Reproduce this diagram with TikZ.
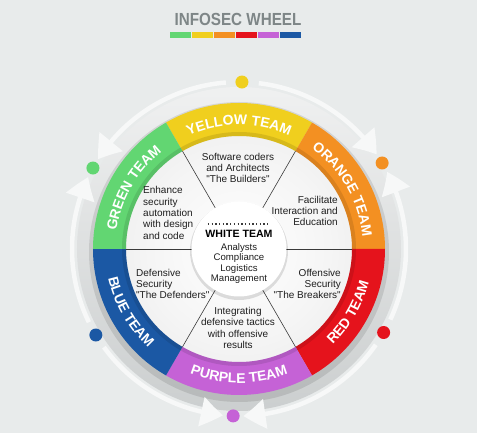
\documentclass[tikz,border=0pt]{standalone}
\usepackage{fontspec}
\usepackage{graphicx}
\setmainfont{Liberation Sans}
\usetikzlibrary{decorations.text,arrows.meta,bending}
\definecolor{cgreen}{HTML}{62D672}
\definecolor{cyellow}{HTML}{F0CF1E}
\definecolor{corange}{HTML}{F39022}
\definecolor{cred}{HTML}{E5131C}
\definecolor{cpurple}{HTML}{C562D6}
\definecolor{cblue}{HTML}{1B58A4}
\definecolor{bgc}{HTML}{E8EBEB}
\definecolor{titlegray}{HTML}{7E8687}
\definecolor{arcwhite}{HTML}{F7F8F8}
\definecolor{txt}{HTML}{1E1E1E}
\definecolor{raycol}{HTML}{3A3A3A}
\pgfdeclareradialshading{diskshade}{\pgfpoint{0bp}{0bp}}{color(0bp)=(white); color(20bp)=(white!96!black); color(38bp)=(white!91!black); color(50bp)=(white!80!black)}
\newcommand{\bandfont}{\fontsize{14}{14}\selectfont\bfseries\color{white}}
\begin{document}
\begin{tikzpicture}[x=1pt,y=1pt,
  secttext/.style={font=\fontsize{10}{11.4}\selectfont, text=txt, inner sep=0pt},
  flow/.style={draw=arcwhite, line width=4.5pt, -{Triangle[length=22pt,width=29pt,bend]}},
  teamdot/.style={circle, inner sep=0pt, minimum size=13pt},
  ray/.style={draw=raycol, line width=0.6pt},
  bandlabel/.style={decorate, decoration={text along path, text align=center, text={#1}}}
]
\useasboundingbox (-239,-184) rectangle (238,249);
\fill[bgc] (-239,-184) rectangle (238,249);

% gray ring behind the wheel
\shade[top color=white!88!titlegray, bottom color=white!60!titlegray] (0,0) circle (162pt);
\fill[black, opacity=0.10] (0,-3) circle (150pt);

% inner disk
\shade[shading=diskshade] (0,0) circle (114pt);

% coloured bands
\foreach \a/\c in {60/cyellow, 0/corange, -60/cred, -120/cpurple, 180/cblue, 120/cgreen}{
  \fill[\c] (\a:113pt) arc[start angle=\a, end angle=\a+60, radius=113pt]
    -- ({\a+60}:146pt) arc[start angle=\a+60, end angle=\a, radius=146pt] -- cycle;
}
% inner edge shadow of bands
\fill[black, opacity=0.10, even odd rule] (0,0) circle (117pt) (0,0) circle (113pt);

% band labels
\path[bandlabel={|\bandfont|YELLOW TEAM}] (120:124pt) arc[start angle=120, end angle=60, radius=124pt];
\path[bandlabel={|\bandfont|GREEN TEAM}] (180:124pt) arc[start angle=180, end angle=120, radius=124pt];
\path[bandlabel={|\bandfont|ORANGE TEAM}] (60:124pt) arc[start angle=60, end angle=0, radius=124pt];
\path[bandlabel={|\bandfont|BLUE TEAM}] (180:134pt) arc[start angle=180, end angle=240, radius=134pt];
\path[bandlabel={|\bandfont|PURPLE TEAM}] (240:134pt) arc[start angle=240, end angle=300, radius=134pt];
\path[bandlabel={|\bandfont|RED TEAM}] (300:134pt) arc[start angle=300, end angle=360, radius=134pt];

% rays between sectors
\foreach \a in {0,60,120,180,240,300}{
  \draw[ray] (\a:44pt) -- (\a:113pt);
}

% white centre
\fill[black, opacity=0.12] (0,-2) circle (49pt);
\fill[white] (0,0) circle (47.5pt);
\draw[raycol, line width=1.3pt, dash pattern=on 1.3pt off 2.4pt] (-31,25) -- (30,25);
\node[font=\fontsize{10.6}{12}\selectfont\bfseries, text=black, inner sep=0pt] (white) at (0,15.5) {WHITE TEAM};
\node[secttext, font=\fontsize{9.6}{10.5}\selectfont, align=center] (whitetxt) at (0,-14.5) {Analysts\\Compliance\\Logistics\\Management};

% sector texts
\node[secttext, align=center] (ytxt) at (-1,81) {Software coders\\and Architects\\\textquotedbl The Builders\textquotedbl};
\node[secttext, align=right, anchor=east] (otxt) at (99,38) {Facilitate\\Interaction and\\Education};
\node[secttext, align=left, anchor=west] (gtxt) at (-96,36) {Enhance\\security\\automation\\with design\\and code};
\node[secttext, align=left, anchor=west] (btxt) at (-103,-35) {Defensive\\Security\\\textquotedbl The Defenders\textquotedbl};
\node[secttext, align=right, anchor=east] (rtxt) at (102,-35) {Offensive\\Security\\\textquotedbl The Breakers\textquotedbl};
\node[secttext, align=center] (ptxt) at (-1,-79) {Integrating\\defensive tactics\\with offensive\\results};

% flow arcs
\draw[flow] (94.5:167pt) arc[start angle=94.5, end angle=147.5, radius=167pt];
\draw[flow] (83.2:167pt) arc[start angle=83.2, end angle=34.5, radius=167pt];
\draw[flow] (206:167pt) arc[start angle=206, end angle=154.5, radius=167pt];
\draw[flow] (-25:167pt) arc[start angle=-25, end angle=27.5, radius=167pt];
\draw[flow] (216:167pt) arc[start angle=216, end angle=264.5, radius=167pt];
\draw[flow] (-35:167pt) arc[start angle=-35, end angle=-88.5, radius=167pt];

% team dots
\node[teamdot, fill=cyellow] (dy) at (89:167pt) {};
\node[teamdot, fill=corange] (do) at (31:167pt) {};
\node[teamdot, fill=cred] (dr) at (-30:167pt) {};
\node[teamdot, fill=cpurple] (dp) at (268:167pt) {};
\node[teamdot, fill=cblue] (db) at (211:167pt) {};
\node[teamdot, fill=cgreen] (dg) at (151:167pt) {};

% title
\node[font=\fontsize{17.5}{18}\selectfont\bfseries, text=titlegray, inner sep=0pt] (title) at (-1,230) {\scalebox{0.87}[1]{INFOSEC WHEEL}};
\foreach \i/\c in {0/cgreen,1/cyellow,2/corange,3/cred,4/cpurple,5/cblue}{
  \fill[\c] (-69+22*\i,211) rectangle (-69+22*\i+21.4,217);
}
\end{tikzpicture}
\end{document}
